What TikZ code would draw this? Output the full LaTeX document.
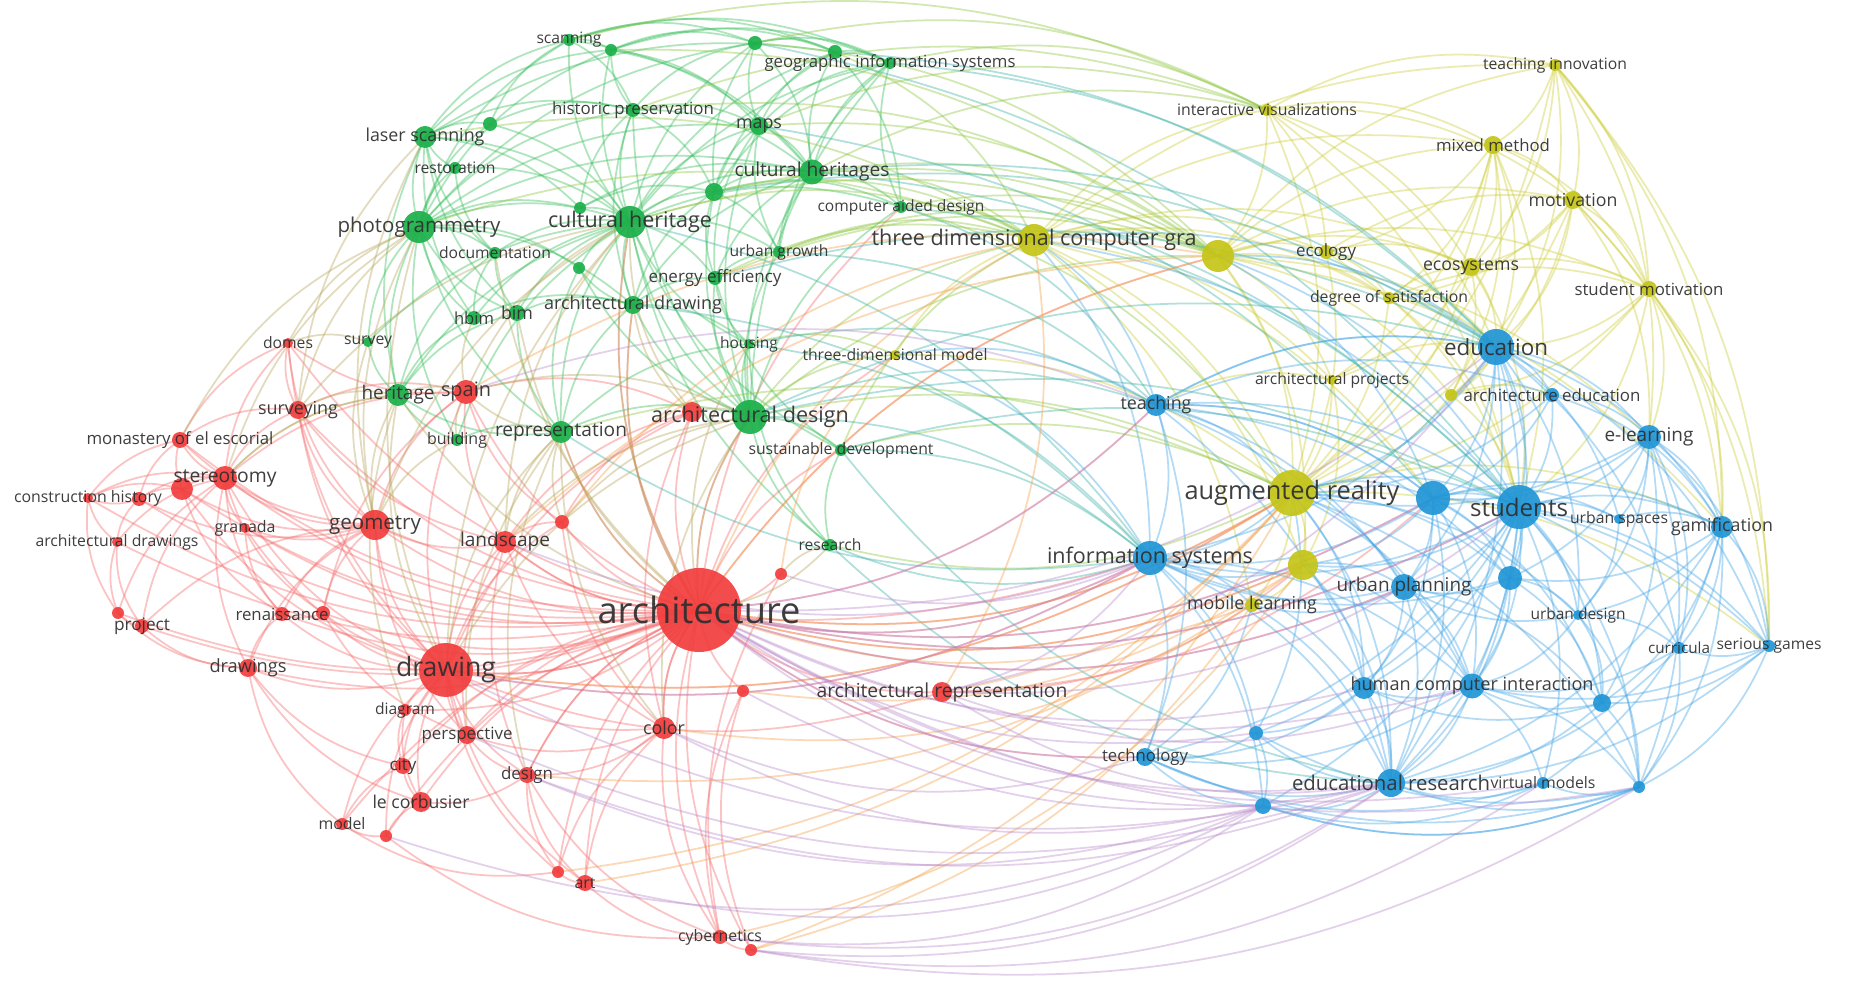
\documentclass[tikz,border=0pt]{standalone}
\usepackage{fontspec}
\setmainfont{Open Sans}
\usepackage{graphicx}
\pgfdeclarelayer{edges}\pgfdeclarelayer{fg}\pgfsetlayers{edges,main,fg}
\definecolor{nR}{HTML}{F23D3D}
\definecolor{nG}{HTML}{1BB04A}
\definecolor{nY}{HTML}{C5C518}
\definecolor{nB}{HTML}{2196D6}
\definecolor{eR}{HTML}{F56A6A}
\definecolor{eG}{HTML}{35BE5A}
\definecolor{eY}{HTML}{CDCD3A}
\definecolor{eB}{HTML}{45A6E6}
\definecolor{eRB}{HTML}{B98ACB}
\definecolor{eRY}{HTML}{F5A04A}
\definecolor{eGB}{HTML}{3DB3A8}
\definecolor{eGY}{HTML}{8CC63C}
\definecolor{eRG}{HTML}{B8A55A}
\definecolor{kwtext}{HTML}{2E2E2E}
\newlength\kwpx \setlength\kwpx{0.1mm}
\newdimen\kwxa \newdimen\kwya \newdimen\kwxb \newdimen\kwyb \newdimen\kwxc \newdimen\kwyc
\tikzset{
 kwdot/.style={circle,inner sep=0pt,draw=none,fill opacity=0.92},
 kwlbl/.style={inner sep=0pt,text=kwtext,text opacity=0.92},
 kwedge/.style={line width=0.5pt,draw opacity=0.4},
 kwer/.style={kwedge,draw=eR},
 kweg/.style={kwedge,draw=eG},
 kwey/.style={kwedge,draw=eY},
 kweb/.style={kwedge,draw=eB},
 kwerb/.style={kwedge,draw=eRB},
 kwery/.style={kwedge,draw=eRY},
 kwegb/.style={kwedge,draw=eGB},
 kwegy/.style={kwedge,draw=eGY},
 kwerg/.style={kwedge,draw=eRG},
}
\newcommand\kwd[5]{\node[kwdot,fill=#5,minimum size={0.2mm*#4}] (#1) at (#2,#3) {};}
\newcommand\kwl[3]{\begin{pgfonlayer}{fg}\node[kwlbl] (#1L) at (#1.center) {\resizebox{#2\kwpx}{!}{#3}};\end{pgfonlayer}}
\newcommand\kwe[3]{%
 \pgfextractx{\kwxa}{\pgfpointanchor{#2}{center}}\pgfextracty{\kwya}{\pgfpointanchor{#2}{center}}%
 \pgfextractx{\kwxb}{\pgfpointanchor{#3}{center}}\pgfextracty{\kwyb}{\pgfpointanchor{#3}{center}}%
 \pgfmathsetmacro\kwcr{((\kwxa-\kwxc)/10)*((\kwyb-\kwyc)/10)-((\kwya-\kwyc)/10)*((\kwxb-\kwxc)/10)}%
 \pgfmathsetmacro\kwbd{\kwcr>0?20:-20}%
 \draw[#1] (#2.center) to[bend right=\kwbd] (#3.center);}
\newcommand\kwelist[2]{\foreach \a/\b in {#2}{\kwe{#1}{\a}{\b}}}
\begin{document}
\begin{tikzpicture}[x=0.1mm,y=-0.1mm]
\useasboundingbox (0,0) rectangle (1849,990);
\begin{pgfonlayer}{edges}
\fill[white] (0,0) rectangle (1849,990);
\end{pgfonlayer}
\coordinate (ctr) at (925,495);
\pgfextractx{\kwxc}{\pgfpointanchor{ctr}{center}}\pgfextracty{\kwyc}{\pgfpointanchor{ctr}{center}}
% green
\kwd{g1}{569}{40}{6}{nG} \kwl{g1}{65}{scanning}
\kwd{g2}{611}{50}{6}{nG}
\kwd{g3}{755}{43}{7}{nG}
\kwd{g4}{835}{52}{7}{nG}
\kwd{g5}{890}{63}{6}{nG} \kwl{g5}{251}{geographic information systems}
\kwd{g6}{425}{137}{11}{nG} \kwl{g6}{119}{laser scanning}
\kwd{g7}{490}{124}{7}{nG}
\kwd{g8}{455}{168}{6}{nG} \kwl{g8}{81}{restoration}
\kwd{g9}{419}{227}{16}{nG} \kwl{g9}{163}{photogrammetry}
\kwd{g10}{633}{110}{7}{nG} \kwl{g10}{162}{historic preservation}
\kwd{g11}{759}{126}{9}{nG} \kwl{g11}{46}{maps}
\kwd{g12}{812}{172}{12.5}{nG} \kwl{g12}{155}{cultural heritages}
\kwd{g13}{714}{192}{9}{nG}
\kwd{g14}{580}{208}{6}{nG}
\kwd{g15}{630}{222}{16}{nG} \kwl{g15}{164}{cultural heritage}
\kwd{g16}{901}{207}{6}{nG} \kwl{g16}{167}{computer aided design}
\kwd{g17}{495}{253}{6}{nG} \kwl{g17}{112}{documentation}
\kwd{g18}{779}{252}{6}{nG} \kwl{g18}{99}{urban growth}
\kwd{g19}{579}{268}{6}{nG}
\kwd{g20}{715}{278}{7}{nG} \kwl{g20}{133}{energy efficiency}
\kwd{g21}{633}{305}{9}{nG} \kwl{g21}{178}{architectural drawing}
\kwd{g22}{517}{313}{8}{nG} \kwl{g22}{32}{bim}
\kwd{g23}{474}{318}{7}{nG} \kwl{g23}{40}{hbim}
\kwd{g24}{368}{342}{5}{nG} \kwl{g24}{48}{survey}
\kwd{g25}{398}{395}{11}{nG} \kwl{g25}{73}{heritage}
\kwd{g26}{749}{344}{5}{nG} \kwl{g26}{58}{housing}
\kwd{g27}{561}{432}{11}{nG} \kwl{g27}{132}{representation}
\kwd{g28}{457}{440}{6}{nG} \kwl{g28}{60}{building}
\kwd{r36}{692}{412}{10}{nR}
\kwd{g29}{750}{417}{17}{nG} \kwl{g29}{198}{architectural design}
\kwd{g30}{841}{450}{6}{nG} \kwl{g30}{185}{sustainable development}
\kwd{g31}{830}{545}{6}{nG} \kwl{g31}{63}{research}
% red
\kwd{r1}{288}{343}{5}{nR} \kwl{r1}{50}{domes}
\kwd{r2}{298}{410}{9}{nR} \kwl{r2}{80}{surveying}
\kwd{r3}{466}{392}{12}{nR} \kwl{r3}{50}{spain}
\kwd{r4}{180}{440}{8}{nR} \kwl{r4}{187}{monastery of el escorial}
\kwd{r6}{182}{489}{11}{nR}
\kwd{r5}{225}{478}{12}{nR} \kwl{r5}{103}{stereotomy}
\kwd{r7}{88}{498}{5}{nR} \kwl{r7}{148}{construction history}
\kwd{r8}{139}{499}{7}{nR}
\kwd{r9}{117}{542}{5}{nR} \kwl{r9}{163}{architectural drawings}
\kwd{r10}{245}{528}{5}{nR} \kwl{r10}{61}{granada}
\kwd{r11}{375}{525}{15}{nR} \kwl{r11}{92}{geometry}
\kwd{r12}{505}{542}{11}{nR} \kwl{r12}{90}{landscape}
\kwd{r13}{562}{522}{7}{nR}
\kwd{r14}{699}{610}{42}{nR} \kwl{r14}{203}{architecture}
\kwd{r15}{781}{574}{6}{nR}
\kwd{r16}{118}{613}{6}{nR}
\kwd{r17}{142}{626}{7}{nR} \kwl{r17}{56}{project}
\kwd{r18}{282}{614}{7}{nR} \kwl{r18}{93}{renaissance}
\kwd{r19}{323}{613}{7}{nR}
\kwd{r20}{248}{668}{9}{nR} \kwl{r20}{77}{drawings}
\kwd{r21}{446}{670}{27}{nR} \kwl{r21}{100}{drawing}
\kwd{r22}{405}{710}{6}{nR} \kwl{r22}{60}{diagram}
\kwd{r23}{467}{735}{9}{nR} \kwl{r23}{91}{perspective}
\kwd{r24}{403}{766}{8}{nR} \kwl{r24}{27}{city}
\kwd{r25}{421}{802}{10}{nR} \kwl{r25}{97}{le corbusier}
\kwd{r26}{342}{824}{6}{nR} \kwl{r26}{47}{model}
\kwd{r27}{386}{836}{6}{nR}
\kwd{r28}{527}{775}{8}{nR} \kwl{r28}{52}{design}
\kwd{r29}{664}{728}{11}{nR} \kwl{r29}{42}{color}
\kwd{r30}{743}{691}{6}{nR}
\kwd{r31}{558}{872}{6}{nR}
\kwd{r32}{585}{883}{8}{nR} \kwl{r32}{21}{art}
\kwd{r33}{720}{937}{7}{nR} \kwl{r33}{84}{cybernetics}
\kwd{r34}{751}{950}{6}{nR}
\kwd{r35}{942}{692}{10}{nR} \kwl{r35}{251}{architectural representation}
% yellow
\kwd{y1}{1034}{240}{16}{nY} \kwl{y1}{325}{three dimensional computer gra}
\kwd{y2}{1218}{256}{16}{nY}
\kwd{y3}{1267}{110}{6}{nY} \kwl{y3}{180}{interactive visualizations}
\kwd{y4}{1326}{252}{7}{nY} \kwl{y4}{60}{ecology}
\kwd{y5}{1389}{298}{6}{nY} \kwl{y5}{158}{degree of satisfaction}
\kwd{y6}{1555}{65}{6}{nY} \kwl{y6}{144}{teaching innovation}
\kwd{y7}{1493}{145}{9}{nY} \kwl{y7}{114}{mixed method}
\kwd{y8}{1573}{200}{9}{nY} \kwl{y8}{89}{motivation}
\kwd{y9}{1471}{267}{9}{nY} \kwl{y9}{96}{ecosystems}
\kwd{y10}{1649}{289}{8}{nY} \kwl{y10}{149}{student motivation}
\kwd{y11}{1332}{380}{5}{nY} \kwl{y11}{154}{architectural projects}
\kwd{y12}{1451}{395}{6}{nY}
\kwd{y13}{1292}{493}{23}{nY} \kwl{y13}{215}{augmented reality}
\kwd{y14}{1303}{565}{15}{nY}
\kwd{y15}{1252}{605}{7}{nY} \kwl{y15}{130}{mobile learning}
\kwd{y16}{895}{355}{5}{nY} \kwl{y16}{185}{three-dimensional model}
% blue
\kwd{b1}{1156}{405}{11}{nB} \kwl{b1}{71}{teaching}
\kwd{b2}{1150}{558}{17}{nB} \kwl{b2}{206}{information systems}
\kwd{b3}{1496}{347}{18}{nB} \kwl{b3}{104}{education}
\kwd{b4}{1552}{395}{7}{nB} \kwl{b4}{177}{architecture education}
\kwd{b5}{1433}{498}{17}{nB}
\kwd{b6}{1519}{507}{22}{nB} \kwl{b6}{98}{students}
\kwd{b7}{1649}{437}{12}{nB} \kwl{b7}{89}{e-learning}
\kwd{b8}{1619}{519}{5}{nB} \kwl{b8}{98}{urban spaces}
\kwd{b9}{1722}{527}{11}{nB} \kwl{b9}{102}{gamification}
\kwd{b10}{1510}{578}{12}{nB}
\kwd{b11}{1404}{587}{13}{nB} \kwl{b11}{135}{urban planning}
\kwd{b12}{1578}{615}{5}{nB} \kwl{b12}{95}{urban design}
\kwd{b13}{1679}{648}{6}{nB} \kwl{b13}{62}{curricula}
\kwd{b14}{1769}{646}{6}{nB} \kwl{b14}{105}{serious games}
\kwd{b16}{1364}{688}{11}{nB}
\kwd{b15}{1472}{686}{12.5}{nB} \kwl{b15}{243}{human computer interaction}
\kwd{b17}{1602}{703}{9}{nB}
\kwd{b18}{1256}{733}{7}{nB}
\kwd{b19}{1145}{757}{9}{nB} \kwl{b19}{86}{technology}
\kwd{b20}{1391}{783}{14}{nB} \kwl{b20}{198}{educational research}
\kwd{b21}{1263}{806}{8}{nB}
\kwd{b22}{1543}{783}{6}{nB} \kwl{b22}{105}{virtual models}
\kwd{b23}{1639}{787}{6}{nB}
% edges
\begin{pgfonlayer}{edges}
\kwelist{kwer}{r14/r1,r14/r2,r14/r3,r14/r4,r14/r5,r14/r6,r14/r8,r14/r10,r14/r11,r14/r12,r14/r13,r14/r15,r14/r16,r14/r17,r14/r18,r14/r19,r14/r20,r14/r21,r14/r22,r14/r23,r14/r24,r14/r25,r14/r26,r14/r27,r14/r28,r14/r29,r14/r30,r14/r31,r14/r32,r14/r33,r14/r34,r14/r35,r14/r36,r14/r21,r14/r29,r14/r28,r14/r12,r14/r7,r14/r9}
\kwelist{kwer}{r14/b2,r14/y13,r14/b1,r14/y2,r14/b6,r14/b11,r14/y14,r14/b5,r14/y16,r14/g30,r14/g16,r14/b19,r14/g29,r14/g21,r14/g27,r14/g15,r21/b2,r21/y13,r11/b2,r35/b5,r35/y14}
\kwelist{kwer}{r21/r2,r21/r3,r21/r5,r21/r6,r21/r11,r21/r12,r21/r13,r21/r18,r21/r19,r21/r20,r21/r22,r21/r23,r21/r24,r21/r25,r21/r26,r21/r27,r21/r28,r21/r29,r21/r32,r21/r31,r21/r35,r21/r1,r21/r10,r21/r36}
\kwelist{kwer}{r11/r1,r11/r2,r11/r3,r11/r4,r11/r5,r11/r6,r11/r10,r11/r12,r11/r18,r11/r19,r11/r20,r11/r23,r11/r8,r11/r17}
\kwelist{kwer}{r5/r4,r5/r6,r5/r7,r5/r8,r5/r9,r5/r10,r5/r2,r5/r1,r5/r3,r5/r18,r5/r17,r5/r16,r5/r20,r5/r19}
\kwelist{kwer}{r4/r7,r4/r8,r4/r6,r7/r9,r7/r16,r7/r8,r9/r16,r9/r17,r16/r17,r8/r9,r6/r8,r6/r7,r17/r20,r16/r20,r20/r24,r20/r26,r20/r25,r24/r25,r24/r26,r25/r27,r25/r28,r26/r27,r22/r24,r22/r25,r23/r28,r23/r29,r28/r32,r28/r31,r31/r32,r32/r33,r29/r33,r29/r32,r33/r34,r30/r33,r28/r29,r1/r2,r1/r3,r2/r3,r2/r12,r3/r12,r12/r13,r3/r13,r12/r28,r18/r19,r19/r23,r18/r20,r10/r18,r2/r4,r1/r4,r29/r31,r30/r34,r15/r33,r27/r33,r26/r31,r28/r33,r12/r29,r13/r29,r3/r19,r6/r18,r12/r23,r36/r3,r36/r12,r36/r29,r36/r13}
\kwelist{kweg}{g15/g1,g15/g2,g15/g3,g15/g4,g15/g5,g15/g6,g15/g7,g15/g8,g15/g9,g15/g10,g15/g11,g15/g12,g15/g13,g15/g14,g15/g16,g15/g17,g15/g18,g15/g19,g15/g20,g15/g21,g15/g22,g15/g23,g15/g24,g15/g25,g15/g26,g15/g27,g15/g28,g15/g29,g15/g30,g15/g31}
\kwelist{kweg}{g9/g1,g9/g2,g9/g6,g9/g7,g9/g8,g9/g10,g9/g14,g9/g17,g9/g19,g9/g21,g9/g22,g9/g23,g9/g24,g9/g25,g9/g12,g9/g11,g9/g28,g9/g3,g9/g27}
\kwelist{kweg}{g12/g1,g12/g3,g12/g4,g12/g5,g12/g11,g12/g13,g12/g16,g12/g18,g12/g20,g12/g10,g12/g29,g12/g2,g12/g21,g12/g14}
\kwelist{kweg}{g29/g21,g29/g20,g29/g26,g29/g30,g29/g31,g29/g27,g29/g18,g29/g13,g29/g16,g29/g19,g29/g10,g29/g11,g29/g5}
\kwelist{kweg}{g6/g1,g6/g2,g6/g7,g6/g8,g6/g10,g6/g17,g6/g25,g6/g22,g6/g23,g6/g14,g6/g4,g10/g1,g10/g2,g10/g3,g10/g7,g10/g11,g10/g13,g10/g14,g10/g21,g1/g2,g1/g3,g1/g4,g1/g5,g1/g7,g2/g3,g2/g4,g2/g5,g2/g11,g3/g4,g3/g5,g3/g11,g3/g13,g4/g5,g4/g11,g4/g13,g4/g16,g5/g11,g5/g13,g5/g16,g5/g18,g11/g13,g11/g18,g11/g20,g13/g16,g13/g18,g13/g20,g13/g21,g13/g14,g21/g19,g21/g22,g21/g23,g21/g27,g21/g20,g21/g26,g25/g24,g25/g27,g25/g28,g25/g23,g25/g22,g25/g17,g27/g28,g27/g22,g27/g19,g27/g26,g20/g18,g20/g26,g20/g30,g17/g22,g17/g23,g17/g8,g31/g30,g31/g26}
\kwelist{kwey}{y13/y1,y13/y2,y13/y3,y13/y4,y13/y5,y13/y6,y13/y7,y13/y8,y13/y9,y13/y10,y13/y11,y13/y12,y13/y14,y13/y15,y13/y16}
\kwelist{kwey}{y2/y1,y2/y3,y2/y4,y2/y5,y2/y7,y2/y8,y2/y9,y2/y10,y2/y11,y2/y12,y2/y14,y2/y6,y1/y3,y1/y4,y1/y5,y1/y7,y1/y9,y1/y11,y1/y14,y1/y15,y1/y16,y1/y6,y3/y4,y3/y6,y3/y7,y3/y8,y3/y9,y6/y7,y6/y8,y6/y10,y6/y9,y7/y8,y7/y9,y7/y10,y7/y4,y7/y5,y7/y12,y7/y11,y8/y9,y8/y10,y8/y12,y8/y5,y8/y4,y9/y10,y9/y4,y9/y5,y9/y11,y9/y12,y10/y12,y10/y5,y14/y15,y14/y11,y4/y5}
\kwelist{kwey}{y6/b7,y6/b9,y6/b14,y6/b3,y7/b3,y7/b6,y8/b7,y8/b9,y8/b3,y10/b7,y10/b9,y10/b6,y10/b3,y10/b14,y12/b3,y12/b6,y11/b3,y5/b3,y9/b3,y9/b6,y4/b3,y3/b3,y3/b6,y8/b14,y13/b9,y13/b14,y2/b7,y2/b9,y12/b4,y11/b1,y5/b6,y4/b6,y1/b5}
\kwelist{kweb}{b6/b1,b6/b2,b6/b3,b6/b4,b6/b5,b6/b7,b6/b8,b6/b9,b6/b10,b6/b11,b6/b12,b6/b13,b6/b14,b6/b15,b6/b16,b6/b17,b6/b19,b6/b20,b6/b22,b6/b23}
\kwelist{kweb}{b3/b1,b3/b2,b3/b4,b3/b5,b3/b7,b3/b9,b3/b10,b3/b11,b3/b15,b3/b20,b3/b8,b3/b13,b5/b1,b5/b2,b5/b4,b5/b7,b5/b9,b5/b10,b5/b11,b5/b15,b5/b16,b5/b20,b5/b17,b2/b1,b2/b11,b2/b15,b2/b16,b2/b18,b2/b19,b2/b20,b2/b21,b2/b10}
\kwelist{kweb}{b9/b7,b9/b13,b9/b14,b9/b17,b9/b23,b9/b10,b9/b12,b9/b22,b9/b20,b9/b4,b9/b8,b7/b4,b7/b13,b7/b14,b7/b10,b7/b12,b7/b17,b7/b8,b7/b23,b20/b15,b20/b16,b20/b18,b20/b19,b20/b21,b20/b22,b20/b23,b20/b17,b20/b11,b20/b10,b19/b16,b19/b18,b19/b21,b19/b15,b19/b1,b23/b17,b23/b15,b23/b22,b23/b14,b23/b13,b23/b12,b23/b21,b15/b16,b15/b17,b15/b22,b15/b10,b15/b11,b15/b12,b14/b13,b14/b17,b12/b17,b12/b13,b12/b8,b16/b18,b16/b11,b18/b21,b1/b11,b1/b4,b1/b10}
\kwelist{kweb}{b1/b3,b1/b5,b1/b15,b1/b20,b11/b10,b11/b17,b11/b12,b10/b17,b10/b12,b5/b8,b3/b12,b3/b14,b5/b14,b6/b18,b6/b21,b20/b14,b20/b13,b16/b17,b19/b22,b19/b23,b21/b23,b21/b22,b18/b23,b15/b13,b15/b14}
\kwelist{kweb}{y13/b1,y13/b2,y13/b3,y13/b4,y13/b5,y13/b6,y13/b7,y13/b10,y13/b11,y13/b15,y13/b16,y13/b20,y13/b18,y2/b3,y2/b6,y2/b5,y1/b1,y1/b2,y1/b3,y1/b6,y14/b2,y14/b5,y14/b6,y14/b11,y14/b15,y15/b2,y15/b11,y15/b19,y15/b20,y16/b1,y16/b2,y13/b23,y13/b12,y14/b20,y14/b16}
\kwelist{kwegy}{g29/y1,g29/y2,g12/y1,g16/y1,g15/y1,g13/y2,g10/y2,g5/y3,g11/y3,g4/y1,g3/y3,g12/y2,g26/y16,g29/y16,g30/y1,g30/y13,g18/y1,g20/y2,g16/y13,g31/y13,g29/y13,g15/y2,g27/y13,g9/y1,g6/y1,g10/y3,g1/y3,g2/y2,g3/y2,g11/y2,g13/y1,g20/y1,g18/y2,g16/y2,g12/y3}
\kwelist{kwegb}{g29/b1,g29/b2,g16/b1,g5/b3,g4/b3,g3/b6,g11/b5,g12/b3,g16/b6,g30/b2,g31/b2,g31/b20,g30/b6,g18/b1,g26/b1,g20/b3,g13/b3,g29/b6,g29/b3,g15/b2,g12/b6,g21/b2,g27/b2,g26/b2,g30/b20}
\kwelist{kwerg}{g9/r2,g9/r5,g9/r11,g25/r11,g25/r2,g24/r11,g27/r14,g27/r21,g21/r14,g15/r14,g29/r14,g31/r14,g25/r14,g9/r21,g6/r11,g22/r14,g23/r3,g25/r3,g27/r3,g28/r3,g28/r11,g17/r14,g29/r21,g26/r14,g31/r15,g29/r12,g9/r4,g25/r5,g6/r2,g9/r1,g24/r1,g25/r21,g27/r12,g29/r29,g29/r36}
\kwelist{kwerg}{r21/g15,r11/g15,r3/g15,r3/g29,r2/g15,r5/g25,r12/g15,r13/g27,r13/g29,r36/g15,r36/g21,r23/g27,r28/g27,r29/g27,r22/g25}
\kwelist{kwery}{r14/y13,r14/y1,r14/y2,r14/y14,r21/y13,r32/y13,r33/y14,r34/y13,r29/y15,r35/y13,r30/y14,r13/y1,r12/y2,r3/y2,r15/y16,r14/y15,r28/y14,r35/y1,r31/y13,r34/y15}
\kwelist{kwerb}{r14/b2,r14/b20,r14/b15,r14/b23,r21/b2,r21/b20,r29/b19,r28/b21,r23/b20,r33/b21,r34/b23,r34/b20,r35/b2,r35/b20,r35/b15,r14/b16,r14/b19,r14/b21,r30/b20,r12/b2,r3/b1,r14/b1,r14/b3,r14/b6,r14/b5,r35/b6,r35/b3,r15/b2,r32/b21,r33/b20,r29/b21,r34/b22,r27/b21,r28/b20,r14/b11,r14/b22,r14/b18}
\end{pgfonlayer}
\end{tikzpicture}
\end{document}
